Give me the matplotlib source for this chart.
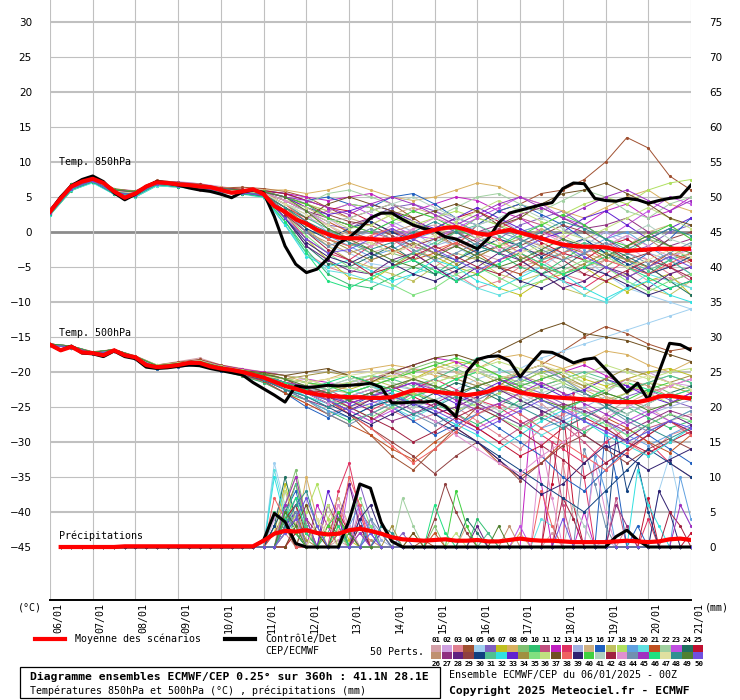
import numpy as np
import matplotlib
matplotlib.use("Agg")
import matplotlib.pyplot as plt
from matplotlib.patches import Rectangle
from matplotlib import transforms

# time axis (hours from 06/01 00z)
hours6 = np.arange(0, 361, 6)
hours12 = np.arange(0, 361, 12)
day_labels = ["06/01", "07/01", "08/01", "09/01", "10/01", "11/01", "12/01", "13/01",
              "14/01", "15/01", "16/01", "17/01", "18/01", "19/01", "20/01", "21/01"]

# 850 hPa temperature, 6-hourly
t850_mean = [2.9, 4.8, 6.5, 7.2, 7.6, 7.0, 5.8, 4.9, 5.5, 6.5, 7.1, 7.0, 6.8, 6.7, 6.5, 6.4,
             6.0, 5.6, 5.8, 6.1, 5.4, 3.7, 2.9, 1.8, 1.2, 0.3, -0.3, -0.8, -0.9, -0.9, -1.0,
             -1.1, -1.1, -1.0, -0.6, -0.1, 0.3, 0.6, 0.7, 0.3, -0.2, -0.4, 0.0, 0.3, -0.1,
             -0.5, -0.9, -1.4, -1.8, -2.0, -2.1, -2.1, -2.2, -2.5, -2.7, -2.6, -2.5, -2.4,
             -2.4, -2.4, -2.4]
t850_ctrl = [2.9, 5.0, 6.6, 7.5, 8.0, 7.2, 5.6, 4.6, 5.4, 6.5, 7.2, 7.0, 6.7, 6.3, 6.0, 5.8,
             5.4, 4.9, 5.7, 6.0, 5.6, 2.2, -2.0, -4.6, -5.8, -5.3, -3.8, -1.6, -0.8, 0.5, 2.0,
             2.7, 2.7, 1.8, 1.0, 0.5, 0.2, -0.7, -1.0, -1.7, -2.4, -1.0, 1.3, 2.7, 3.1, 3.5,
             3.9, 4.2, 6.2, 7.0, 6.9, 4.8, 4.5, 4.4, 4.8, 4.6, 4.1, 4.5, 4.8, 5.0, 6.7]

# 500 hPa temperature, 6-hourly
t500_mean = [-16.1, -16.9, -16.4, -17.2, -17.3, -17.6, -16.9, -17.6, -17.9, -19.0, -19.3,
             -19.2, -19.0, -18.7, -18.7, -19.2, -19.5, -19.7, -20.0, -20.4, -20.8, -21.4,
             -22.0, -22.4, -22.9, -23.2, -23.4, -23.5, -23.6, -23.6, -23.7, -23.7, -23.6,
             -23.1, -22.6, -22.6, -22.8, -23.0, -23.1, -23.3, -23.1, -22.8, -22.2, -22.4,
             -22.9, -23.2, -23.4, -23.6, -23.7, -23.8, -23.9, -24.0, -24.2, -24.3, -24.3,
             -24.3, -24.0, -23.5, -23.4, -23.6, -23.8]
t500_ctrl = [-16.1, -16.9, -16.3, -17.3, -17.4, -17.8, -17.0, -17.8, -18.1, -19.3, -19.5,
             -19.4, -19.2, -19.0, -19.1, -19.5, -19.8, -20.1, -20.4, -21.5, -22.4, -23.3,
             -24.3, -22.0, -22.2, -22.1, -21.9, -22.0, -21.9, -21.8, -21.6, -22.2, -24.4,
             -24.4, -24.3, -24.3, -24.1, -24.9, -26.4, -20.0, -18.2, -17.8, -17.7, -18.4,
             -20.7, -18.8, -17.1, -17.2, -17.9, -18.7, -18.2, -18.0, -19.6, -21.2, -22.9,
             -21.6, -24.0, -20.0, -15.9, -16.1, -16.9]

# precipitation (mm / 6h), from 06h to 360h
pr_mean = [0, 0, 0, 0, 0, 0, 0.1, 0.1, 0.1, 0.1, 0.1, 0.1, 0.1, 0.1, 0.1, 0.1, 0.1, 0.1, 0.1,
           0.9, 1.9, 2.3, 2.2, 2.4, 2.0, 1.8, 1.9, 2.4, 2.6, 2.3, 1.9, 1.4, 1.1, 1.0, 0.9,
           1.0, 1.1, 0.9, 0.9, 1.0, 0.8, 0.8, 1.0, 1.2, 1.0, 0.9, 0.9, 0.8, 0.7, 0.7, 0.7,
           0.7, 0.8, 0.9, 0.8, 0.7, 0.8, 1.1, 1.2, 1.0]
pr_ctrl = [0, 0, 0, 0, 0, 0, 0, 0, 0, 0, 0, 0, 0, 0, 0, 0, 0, 0, 0,
           1.0, 4.8, 3.6, 0.5, 0, 0, 0, 0, 3.8, 9.0, 8.4, 3.5, 0.8,
           0, 0, 0, 0, 0, 0, 0, 0, 0, 0, 0, 0, 0, 0, 0, 0, 0, 0, 0, 0,
           1.5, 2.4, 1.0, 0, 0, 0, 0, 0]

# 50 perturbed members, 850 hPa, 12-hourly
t850_members = [
    "2.5 6.0 7.2 5.5 5.2 6.8 7.0 6.8 6.2 6.0 5.5 4.0 2.0 1.0 -1.0 -3.0 -2.0 0.5 1.0 -1.0 -3.0 -4.0 -2.5 -3.0 -5.0 -6.0 -4.0 -5.0 -7.0 -6.5 -8.0",
    "3.0 6.8 7.8 6.0 5.6 7.2 7.2 6.9 6.5 6.0 6.0 5.5 4.0 2.0 0.0 -1.0 1.0 2.0 3.0 2.0 1.0 -1.0 -2.0 -4.0 -3.0 -1.0 0.0 -2.0 -4.0 -5.0 -3.0",
    "3.2 6.5 7.5 5.8 5.0 7.0 6.5 6.0 5.5 5.6 5.0 1.0 -3.0 -5.0 -6.0 -4.0 -3.0 -2.0 -4.0 -6.0 -8.0 -7.0 -5.0 -4.0 -6.0 -7.0 -5.0 -3.0 -4.0 -6.0 -5.0",
    "2.8 6.3 7.9 6.2 5.8 7.4 7.1 6.6 6.3 6.4 6.2 5.8 5.0 3.5 2.0 3.0 4.0 2.0 0.0 -2.0 1.0 3.0 4.0 5.5 6.0 7.5 10.0 13.5 12.0 8.0 6.0",
    "2.6 6.1 7.3 5.6 5.4 6.9 6.7 6.4 5.9 5.7 5.2 3.0 0.0 -2.0 -3.0 -4.5 -5.0 -3.0 -1.0 -2.0 -4.0 -5.0 -6.0 -5.0 -3.0 -4.0 -6.0 -8.0 -9.0 -10.0 -11.0",
    "3.1 6.7 7.7 5.9 5.7 7.3 6.9 6.7 6.1 5.9 5.7 4.5 3.0 1.0 0.5 2.0 3.5 4.0 3.0 1.5 0.0 -1.0 1.0 2.0 3.0 1.0 -1.0 -3.0 -2.0 0.0 1.0",
    "2.7 6.4 7.4 5.7 5.3 7.0 6.6 6.3 5.8 5.6 5.3 2.0 -1.0 -4.0 -6.5 -7.0 -5.0 -3.0 -3.5 -5.0 -6.0 -8.0 -9.0 -7.0 -6.0 -5.0 -7.0 -8.5 -7.0 -6.0 -9.0",
    "3.0 6.6 7.6 5.9 5.6 7.1 7.0 6.8 6.4 6.1 6.0 6.0 5.5 6.0 7.0 6.0 5.0 4.5 5.0 6.0 7.0 6.5 5.0 4.0 3.0 2.0 3.5 5.0 6.0 4.0 3.0",
    "2.9 6.5 7.5 5.7 5.4 7.0 6.7 6.4 6.0 5.8 5.5 3.5 1.0 -1.0 -2.0 -1.5 -3.0 -4.0 -2.0 0.0 2.0 1.0 -1.0 -3.0 -2.0 -4.0 -5.0 -3.0 -1.0 -2.0 -4.0",
    "2.4 5.9 7.1 5.4 5.0 6.6 6.4 6.2 5.7 5.5 5.0 1.5 -2.5 -6.0 -7.5 -8.0 -6.5 -5.0 -6.0 -4.0 -2.0 -3.0 -5.0 -6.0 -4.0 -2.0 -3.0 -5.0 -6.0 -4.0 -3.0",
    "3.3 6.9 7.9 6.1 5.9 7.3 7.1 6.9 6.3 6.1 5.8 5.0 3.5 2.0 1.0 0.0 -1.0 -2.0 -3.0 -2.0 -1.0 0.5 2.0 1.0 -1.0 -3.0 -2.0 -4.0 -6.0 -5.0 -7.0",
    "3.0 6.6 7.7 6.0 5.7 7.2 6.9 6.7 6.2 5.9 5.8 5.5 5.0 4.5 5.0 5.5 4.0 3.0 4.0 5.0 4.5 3.0 2.0 0.0 -1.0 1.0 3.0 4.0 2.0 3.0 5.0",
    "2.8 6.2 7.3 5.6 5.3 6.9 6.6 6.2 5.8 5.6 5.1 2.5 -1.0 -3.0 -4.0 -2.0 -1.0 -3.0 -5.0 -7.0 -6.0 -4.0 -3.0 -5.0 -7.0 -8.0 -6.0 -4.0 -5.0 -7.0 -6.0",
    "3.1 6.6 7.6 5.8 5.5 7.1 6.8 6.5 6.0 5.8 5.4 4.0 2.5 0.0 -1.0 0.0 1.5 0.0 -2.0 -1.0 1.0 2.0 0.0 -2.0 -3.0 -2.0 0.0 -1.0 -3.0 -4.0 -2.0",
    "2.6 6.2 7.2 5.5 5.3 6.8 6.6 6.4 5.9 5.7 5.4 4.5 4.0 3.0 2.0 1.0 2.5 3.5 2.5 1.0 -0.5 -2.0 -1.0 0.5 -1.0 -3.0 -4.0 -2.0 0.0 1.0 -1.0",
    "3.0 6.7 7.8 6.0 5.8 7.3 7.0 6.7 6.2 6.0 5.9 5.5 4.5 5.0 4.0 3.5 5.0 5.5 4.0 2.0 1.0 3.0 4.0 2.5 1.0 -1.0 -3.0 -5.0 -3.0 -1.0 2.0",
    "2.7 6.3 7.4 5.7 5.4 6.9 6.7 6.5 6.0 5.7 5.3 3.0 0.5 -2.0 -4.0 -5.0 -6.0 -7.0 -5.0 -3.0 -4.0 -6.0 -7.0 -6.0 -8.0 -9.0 -7.0 -6.0 -8.0 -9.0 -7.0",
    "3.2 6.8 7.8 6.1 5.8 7.3 7.0 6.8 6.3 6.1 5.9 5.0 4.0 3.0 4.0 3.5 2.0 1.0 2.0 3.0 2.0 1.0 0.0 1.0 2.5 4.0 5.0 4.0 6.0 7.0 7.5",
    "2.9 6.4 7.5 5.8 5.4 7.0 6.8 6.5 6.0 5.8 5.4 3.5 1.5 -0.5 -2.0 -3.5 -2.5 -1.0 0.0 -1.5 -3.0 -2.0 0.0 1.0 -1.0 -2.5 -1.0 0.0 -2.0 -4.0 -6.0",
    "2.5 6.0 7.0 5.4 5.0 6.6 6.4 6.1 5.6 5.4 4.9 1.0 -3.0 -5.5 -6.0 -7.0 -8.0 -6.0 -5.0 -6.5 -8.0 -9.0 -8.0 -6.0 -7.0 -9.0 -10.0 -8.0 -6.0 -7.0 -8.0",
    "3.1 6.7 7.7 5.9 5.6 7.2 6.9 6.6 6.1 5.9 5.6 4.5 3.0 1.5 0.0 -1.0 -2.5 -4.0 -3.0 -1.5 -3.0 -5.0 -6.0 -4.0 -2.0 -3.0 -5.0 -6.5 -5.0 -3.0 -4.0",
    "2.8 6.4 7.5 5.8 5.5 7.1 6.9 6.6 6.1 5.9 5.7 5.0 4.0 5.5 6.0 5.0 4.0 3.0 2.0 3.5 5.0 5.5 4.0 3.0 4.5 6.0 5.0 3.0 2.0 4.0 5.0",
    "3.0 6.5 7.6 5.8 5.5 7.1 6.8 6.5 6.0 5.8 5.5 4.0 2.0 3.0 4.0 2.5 1.0 -0.5 -1.0 0.5 2.0 3.5 5.0 4.0 2.0 1.0 -1.0 1.0 3.0 5.0 4.0",
    "2.7 6.3 7.3 5.6 5.3 6.9 6.6 6.3 5.8 5.6 5.2 2.0 -2.0 -4.5 -5.0 -3.5 -2.0 -4.0 -6.0 -5.0 -3.0 -2.0 -4.0 -6.0 -5.0 -3.0 -2.0 -3.5 -5.0 -7.0 -9.0",
    "3.2 6.8 7.9 6.1 5.8 7.3 7.0 6.8 6.3 6.1 5.9 5.5 4.5 3.5 3.0 1.5 0.0 -1.0 0.5 2.0 3.0 1.5 0.0 -1.5 -3.0 -4.0 -2.0 -1.0 -3.0 -5.0 -4.0",
    "2.9 6.5 7.5 5.8 5.5 7.0 6.7 6.4 6.0 5.8 5.5 3.0 0.0 -1.5 -3.0 -2.0 0.0 1.0 -0.5 -2.0 -3.5 -2.0 -1.0 -2.0 -3.5 -5.0 -4.0 -2.0 -1.0 -3.0 -4.5",
    "3.0 6.6 7.6 5.9 5.6 7.1 6.8 6.6 6.1 5.9 5.6 4.5 3.0 2.0 1.0 2.0 3.0 1.5 0.0 -1.0 0.0 1.0 2.5 3.5 2.0 0.5 1.0 2.0 0.0 -2.0 -1.0",
    "2.6 6.1 7.2 5.5 5.2 6.8 6.5 6.2 5.8 5.5 5.1 2.0 -2.0 -4.0 -5.5 -6.0 -4.0 -3.0 -5.0 -7.0 -5.0 -3.0 -4.0 -6.0 -8.0 -7.0 -5.0 -6.0 -8.0 -6.0 -5.0",
    "3.1 6.7 7.8 6.0 5.7 7.2 6.9 6.7 6.2 6.0 5.8 5.0 4.0 2.5 1.5 1.0 -0.5 -2.0 -1.0 0.0 -1.5 -3.0 -2.0 -0.5 1.0 0.0 -2.0 -4.0 -3.0 -1.0 0.0",
    "2.8 6.4 7.4 5.7 5.4 7.0 6.7 6.4 5.9 5.7 5.3 3.0 0.5 -1.0 0.5 1.5 0.0 -1.5 -3.0 -4.0 -2.5 -1.0 -2.0 -3.5 -2.0 -1.0 -3.0 -4.5 -6.0 -5.0 -3.5",
    "3.0 6.6 7.7 5.9 5.6 7.2 6.9 6.6 6.1 5.9 5.6 4.0 2.0 0.5 -1.5 -3.0 -4.5 -3.0 -1.5 0.0 1.0 -0.5 -2.0 -4.0 -3.0 -1.5 -2.5 -4.0 -5.5 -4.0 -6.0",
    "2.5 6.0 7.1 5.4 5.1 6.7 6.5 6.2 5.7 5.5 5.0 1.0 -3.5 -5.0 -4.0 -5.5 -7.0 -6.0 -4.0 -5.0 -7.0 -8.0 -6.5 -5.0 -6.0 -8.0 -9.5 -8.0 -7.0 -9.0 -10.0",
    "3.2 6.8 7.8 6.0 5.7 7.2 7.0 6.7 6.2 6.0 5.7 5.0 3.5 2.5 3.0 4.0 3.0 1.5 0.5 2.0 3.5 2.0 0.5 -1.0 0.0 2.0 3.0 1.0 -1.0 0.5 2.0",
    "2.9 6.5 7.5 5.8 5.4 7.0 6.7 6.4 5.9 5.7 5.4 3.5 1.0 -1.0 -2.5 -4.0 -3.0 -1.5 -3.0 -4.5 -3.5 -2.0 -3.5 -5.0 -6.0 -4.5 -3.0 -4.0 -5.0 -3.5 -2.0",
    "2.7 6.2 7.3 5.6 5.3 6.9 6.6 6.3 5.8 5.6 5.2 2.5 -0.5 -3.0 -5.0 -6.0 -7.5 -9.0 -8.0 -6.0 -5.0 -6.5 -8.0 -7.0 -5.5 -4.0 -5.0 -7.0 -8.5 -7.0 -6.0",
    "3.1 6.7 7.7 5.9 5.6 7.1 6.9 6.6 6.1 5.9 5.6 4.5 3.5 2.0 0.5 1.0 2.5 1.5 0.0 1.5 3.0 4.5 3.0 1.5 0.0 -1.0 0.5 2.0 3.5 2.0 0.5",
    "2.8 6.3 7.4 5.7 5.4 7.0 6.7 6.4 5.9 5.7 5.3 3.5 2.0 4.0 5.0 4.0 3.0 2.0 3.0 4.0 3.0 1.0 2.0 4.0 5.5 6.0 7.0 5.5 4.0 2.0 1.0",
    "3.0 6.6 7.6 5.9 5.6 7.1 6.9 6.6 6.1 5.9 5.5 4.0 1.5 -1.0 -2.0 -0.5 0.5 -1.0 -2.5 -1.5 0.0 -1.0 -3.0 -4.5 -3.0 -2.0 -4.0 -5.0 -6.0 -4.5 -3.0",
    "2.6 6.1 7.2 5.5 5.2 6.8 6.5 6.2 5.7 5.5 5.1 2.0 -1.5 -3.5 -4.5 -3.0 -4.5 -6.0 -7.0 -5.5 -4.0 -5.0 -7.0 -8.0 -6.5 -5.0 -6.0 -7.5 -9.0 -8.0 -7.0",
    "3.2 6.8 7.8 6.1 5.8 7.3 7.0 6.7 6.2 6.0 5.8 5.0 4.0 2.0 1.0 0.0 1.5 3.0 2.0 0.5 -1.0 -2.0 -0.5 1.0 2.5 1.0 -1.0 -2.0 -0.5 1.0 -1.0",
    "2.9 6.5 7.5 5.8 5.5 7.0 6.8 6.5 6.0 5.8 5.5 4.0 3.0 1.5 2.0 3.0 4.0 5.0 3.5 2.0 1.0 2.0 3.5 2.0 0.5 -1.0 -2.0 -0.5 1.0 -1.0 -2.0",
    "2.7 6.3 7.3 5.6 5.3 6.9 6.6 6.3 5.8 5.6 5.2 2.5 0.0 -2.5 -4.0 -6.0 -5.0 -3.5 -2.0 -3.5 -5.0 -6.0 -4.5 -3.0 -4.0 -6.0 -7.0 -5.5 -4.0 -5.0 -6.5",
    "3.0 6.6 7.7 5.9 5.6 7.2 6.9 6.6 6.1 5.9 5.6 4.5 3.0 1.0 -0.5 -2.0 -1.0 0.5 2.0 1.0 -1.0 -2.5 -1.5 0.0 -1.5 -3.0 -2.0 -0.5 -2.0 -3.5 -2.5",
    "2.8 6.4 7.4 5.7 5.4 7.0 6.7 6.4 5.9 5.7 5.3 3.0 0.0 -2.0 -1.0 0.5 -1.0 -2.5 -4.0 -3.0 -1.5 0.0 -1.0 -2.5 -4.0 -3.0 -1.5 -3.0 -4.5 -3.0 -1.5",
    "3.1 6.7 7.7 6.0 5.7 7.2 6.9 6.7 6.2 6.0 5.7 5.0 4.5 3.5 2.5 4.0 5.0 4.0 2.5 1.0 2.5 4.0 5.0 3.5 2.0 3.5 5.0 6.0 4.5 3.0 4.5",
    "2.6 6.1 7.2 5.5 5.2 6.8 6.5 6.2 5.7 5.5 5.0 1.5 -3.0 -7.0 -8.0 -6.5 -5.0 -4.0 -5.5 -7.0 -6.0 -4.5 -3.0 -4.5 -6.0 -5.0 -3.5 -5.0 -6.5 -8.0 -7.0",
    "3.0 6.5 7.6 5.8 5.5 7.1 6.8 6.5 6.0 5.8 5.5 4.0 2.5 1.0 -0.5 -1.5 -3.0 -2.0 -0.5 1.0 0.0 -1.5 -3.0 -2.0 -0.5 -2.0 -3.5 -5.0 -4.0 -2.5 -3.5",
    "2.8 6.3 7.4 5.7 5.4 7.0 6.7 6.4 5.9 5.7 5.4 3.5 1.5 0.0 -1.5 -2.5 -1.5 0.0 1.5 0.0 -2.0 -3.0 -1.5 0.0 1.5 0.5 -1.0 -2.5 -1.0 0.5 -0.5",
    "3.1 6.7 7.8 6.0 5.7 7.2 6.9 6.7 6.2 6.0 5.7 5.0 3.0 0.5 -1.0 -2.5 -4.0 -5.0 -3.5 -2.0 -3.5 -5.0 -4.0 -2.5 -1.0 -2.0 -3.5 -2.0 -0.5 -2.0 -3.0",
    "2.7 6.2 7.3 5.6 5.3 6.9 6.6 6.3 5.8 5.6 5.2 2.0 -1.0 -3.0 -2.5 -1.0 0.5 -1.0 -2.5 -4.0 -5.5 -4.0 -2.5 -1.0 -2.0 -3.5 -5.0 -6.5 -5.0 -3.5 -5.0",
]

# 50 perturbed members, 500 hPa, 12-hourly
t500_members = [
    "-16.0 -16.5 -17.2 -16.8 -18.0 -19.0 -18.5 -18.0 -19.0 -19.5 -20.0 -21.0 -22.0 -23.0 -25.0 -24.0 -22.0 -21.0 -22.5 -24.0 -26.0 -25.0 -23.0 -24.5 -27.0 -29.0 -26.0 -24.0 -25.0 -27.0 -26.0",
    "-16.2 -16.3 -17.4 -17.0 -17.8 -19.2 -18.8 -18.2 -19.2 -19.8 -20.5 -21.5 -21.0 -22.0 -21.5 -21.0 -20.5 -19.5 -20.0 -21.0 -22.0 -21.0 -20.0 -19.0 -21.0 -22.5 -23.0 -21.0 -20.0 -21.5 -22.0",
    "-16.1 -16.5 -17.3 -16.9 -18.0 -19.5 -19.3 -19.0 -19.8 -20.5 -21.5 -23.0 -24.5 -26.0 -25.0 -24.0 -25.5 -27.0 -26.0 -25.0 -27.0 -29.0 -31.0 -28.0 -26.0 -25.0 -27.0 -30.0 -32.0 -29.0 -28.0",
    "-16.0 -16.3 -17.1 -16.8 -17.7 -19.0 -18.6 -18.2 -19.0 -19.6 -20.2 -21.0 -22.5 -24.0 -26.0 -29.0 -32.0 -34.0 -31.0 -28.0 -25.0 -22.0 -20.0 -19.0 -17.0 -15.0 -13.5 -14.5 -16.0 -17.0 -16.5",
    "-16.1 -16.4 -17.3 -16.9 -17.9 -19.2 -19.0 -18.7 -19.4 -20.0 -20.7 -22.0 -23.5 -24.5 -23.0 -22.0 -23.5 -25.0 -24.0 -22.5 -21.0 -20.0 -19.5 -18.0 -17.0 -16.0 -15.0 -14.0 -13.0 -12.0 -11.0",
    "-16.2 -16.5 -17.4 -17.0 -18.0 -19.4 -19.1 -18.8 -19.6 -20.2 -21.0 -22.0 -22.5 -23.0 -24.0 -23.5 -22.5 -21.5 -22.0 -23.5 -24.5 -23.0 -22.0 -23.0 -24.5 -26.0 -25.0 -23.5 -22.5 -24.0 -25.0",
    "-16.0 -16.4 -17.2 -16.9 -17.8 -19.1 -18.9 -18.6 -19.3 -19.8 -20.2 -21.0 -21.5 -22.0 -22.5 -21.5 -20.5 -21.0 -19.5 -18.5 -19.0 -20.5 -21.5 -20.0 -19.5 -21.0 -22.0 -21.0 -20.0 -19.5 -20.5",
    "-16.1 -16.3 -17.3 -16.8 -17.9 -19.2 -18.9 -18.5 -19.2 -19.7 -20.0 -20.5 -21.5 -21.0 -20.0 -19.5 -19.0 -19.5 -20.5 -21.0 -19.5 -18.0 -17.5 -18.5 -19.5 -18.5 -17.0 -17.5 -19.0 -20.0 -18.5",
    "-16.1 -16.4 -17.3 -17.0 -18.0 -19.3 -19.1 -18.8 -19.6 -20.3 -21.2 -22.5 -23.0 -24.0 -23.0 -22.0 -21.0 -19.5 -18.5 -19.5 -21.0 -22.5 -21.5 -20.0 -21.5 -23.0 -24.5 -23.0 -21.5 -23.0 -24.0",
    "-16.0 -16.5 -17.4 -16.9 -18.1 -19.5 -19.2 -19.0 -19.8 -20.6 -21.5 -23.0 -24.0 -25.5 -27.0 -26.0 -24.5 -23.0 -24.5 -26.0 -27.5 -26.0 -24.0 -25.5 -27.0 -28.5 -27.0 -25.0 -26.5 -28.0 -27.0",
    "-16.2 -16.4 -17.3 -16.9 -17.9 -19.3 -19.0 -18.6 -19.4 -20.0 -20.6 -21.5 -22.5 -24.0 -25.5 -27.0 -25.0 -23.0 -24.0 -26.0 -28.0 -30.0 -28.0 -26.0 -27.5 -30.0 -33.0 -31.0 -28.0 -27.0 -29.0",
    "-16.1 -16.3 -17.2 -16.8 -17.8 -19.1 -18.8 -18.4 -19.1 -19.6 -20.0 -20.5 -21.0 -21.5 -22.0 -21.0 -20.0 -19.0 -18.0 -18.5 -20.0 -21.0 -22.0 -21.0 -20.0 -19.0 -20.5 -22.0 -23.0 -22.0 -21.0",
    "-16.0 -16.4 -17.3 -16.9 -17.9 -19.2 -18.9 -18.7 -19.5 -20.1 -20.9 -22.0 -23.0 -22.5 -24.0 -25.5 -24.0 -22.5 -21.0 -22.5 -24.0 -25.0 -27.0 -29.0 -31.0 -33.0 -30.0 -28.0 -30.0 -33.0 -35.0",
    "-16.1 -16.5 -17.3 -17.0 -18.0 -19.4 -19.1 -18.8 -19.5 -20.0 -20.5 -21.5 -22.0 -23.5 -24.5 -23.5 -22.0 -22.5 -24.0 -25.5 -24.0 -22.5 -23.5 -25.0 -26.5 -25.0 -23.5 -24.5 -26.0 -25.0 -24.0",
    "-16.2 -16.4 -17.2 -16.9 -17.8 -19.1 -18.8 -18.5 -19.2 -19.8 -20.3 -21.0 -21.5 -22.5 -23.0 -22.0 -21.0 -20.0 -19.0 -20.0 -21.5 -22.5 -23.5 -22.0 -21.0 -22.0 -23.5 -24.5 -23.0 -22.0 -23.0",
    "-16.1 -16.4 -17.4 -17.0 -18.1 -19.5 -19.3 -19.0 -19.8 -20.4 -21.3 -23.0 -25.0 -26.5 -25.0 -23.5 -25.0 -27.0 -29.0 -27.5 -26.0 -28.0 -30.0 -32.0 -35.0 -37.0 -34.0 -31.0 -29.0 -31.0 -33.0",
    "-16.0 -16.3 -17.2 -16.8 -17.8 -19.1 -18.8 -18.5 -19.3 -19.8 -20.4 -21.5 -22.5 -23.0 -22.0 -21.0 -22.0 -23.5 -22.5 -21.0 -20.0 -21.5 -23.0 -22.0 -21.0 -22.5 -24.0 -23.0 -21.5 -22.0 -23.0",
    "-16.1 -16.4 -17.3 -16.9 -17.9 -19.2 -19.0 -18.7 -19.5 -20.1 -20.8 -22.0 -22.5 -23.5 -24.0 -25.0 -24.0 -23.0 -24.0 -25.5 -24.5 -23.0 -22.0 -23.5 -25.0 -24.0 -22.5 -21.5 -23.0 -24.5 -23.5",
    "-16.2 -16.5 -17.3 -17.0 -18.0 -19.3 -19.1 -18.8 -19.6 -20.2 -21.0 -22.5 -24.0 -25.5 -26.5 -25.0 -23.5 -24.5 -26.0 -27.5 -26.0 -24.5 -26.0 -28.0 -27.0 -25.5 -27.0 -29.0 -30.5 -29.0 -27.5",
    "-16.1 -16.4 -17.3 -16.9 -17.9 -19.2 -18.9 -18.6 -19.4 -19.9 -20.6 -21.5 -22.0 -23.0 -22.5 -23.5 -25.0 -26.5 -25.0 -23.0 -24.5 -26.0 -27.5 -29.0 -27.5 -26.0 -28.0 -30.0 -28.5 -27.0 -25.5",
    "-16.0 -16.4 -17.3 -17.0 -18.0 -19.4 -19.2 -18.9 -19.7 -20.4 -21.3 -23.0 -24.5 -26.0 -27.5 -29.0 -31.0 -32.5 -30.0 -28.0 -30.0 -33.0 -35.0 -33.0 -30.0 -28.0 -26.5 -28.0 -30.0 -31.5 -29.0",
    "-16.1 -16.3 -17.2 -16.8 -17.8 -19.0 -18.7 -18.4 -19.2 -19.7 -20.3 -21.0 -21.5 -22.0 -21.0 -20.5 -21.5 -22.5 -21.5 -20.5 -19.5 -20.5 -21.5 -22.5 -21.5 -20.5 -21.5 -22.5 -21.5 -20.5 -21.5",
    "-16.2 -16.5 -17.4 -17.0 -18.1 -19.4 -19.1 -18.7 -19.5 -20.1 -20.9 -22.0 -23.0 -24.0 -25.5 -27.0 -25.5 -24.0 -25.0 -26.5 -28.0 -26.5 -25.0 -23.5 -25.0 -27.0 -28.5 -27.0 -25.5 -27.0 -28.5",
    "-16.1 -16.4 -17.3 -16.9 -17.9 -19.2 -18.9 -18.6 -19.4 -20.0 -20.7 -21.5 -23.0 -24.5 -23.5 -22.5 -23.5 -24.5 -23.0 -21.5 -22.5 -24.0 -25.0 -23.5 -22.0 -23.0 -24.5 -26.0 -24.5 -23.0 -22.0",
    "-16.0 -16.3 -17.2 -16.8 -17.8 -19.1 -18.8 -18.5 -19.3 -19.9 -20.5 -21.5 -22.5 -23.0 -24.0 -23.0 -22.0 -23.5 -25.0 -26.5 -28.0 -30.0 -32.0 -30.5 -28.0 -26.5 -28.0 -30.0 -31.5 -30.0 -28.5",
    "-16.1 -16.4 -17.3 -16.9 -17.9 -19.2 -19.0 -18.7 -19.5 -20.0 -20.8 -21.5 -22.0 -23.0 -22.0 -21.0 -20.0 -21.0 -22.0 -23.0 -22.0 -21.0 -20.5 -21.5 -23.0 -24.0 -22.5 -21.0 -22.0 -23.5 -22.5",
    "-16.2 -16.5 -17.4 -17.0 -18.0 -19.3 -19.1 -18.8 -19.6 -20.3 -21.2 -22.5 -24.0 -25.0 -24.0 -25.5 -27.0 -26.0 -24.5 -23.0 -24.5 -26.0 -27.5 -26.0 -24.5 -25.5 -27.0 -28.5 -27.0 -25.5 -26.5",
    "-16.1 -16.4 -17.3 -16.9 -17.9 -19.2 -18.9 -18.6 -19.4 -20.0 -20.6 -21.5 -22.5 -24.0 -25.5 -24.0 -23.0 -24.5 -26.0 -25.0 -23.5 -22.5 -24.0 -25.5 -27.0 -29.0 -31.0 -29.5 -27.5 -26.0 -27.5",
    "-16.0 -16.4 -17.2 -16.8 -17.8 -19.1 -18.8 -18.5 -19.2 -19.7 -20.2 -21.0 -22.5 -24.0 -26.0 -28.0 -30.0 -32.0 -34.5 -32.0 -30.0 -32.5 -35.5 -33.0 -30.5 -29.0 -31.0 -33.0 -31.0 -29.5 -31.0",
    "-16.1 -16.5 -17.3 -17.0 -18.0 -19.4 -19.1 -18.9 -19.7 -20.3 -21.1 -22.5 -23.5 -25.0 -26.5 -25.0 -24.0 -25.5 -27.0 -28.5 -30.0 -32.0 -34.0 -36.0 -38.0 -40.0 -37.0 -34.0 -31.0 -33.0 -35.0",
    "-16.1 -16.4 -17.3 -16.9 -17.9 -19.2 -19.0 -18.7 -19.4 -19.9 -20.5 -21.5 -22.0 -22.5 -21.5 -20.5 -21.0 -22.0 -21.0 -19.5 -18.0 -19.5 -21.0 -22.0 -21.0 -20.0 -21.0 -22.5 -21.5 -20.5 -21.5",
    "-16.2 -16.4 -17.3 -17.0 -18.0 -19.3 -19.0 -18.7 -19.5 -20.1 -20.9 -22.0 -23.5 -24.5 -23.0 -22.0 -23.0 -24.5 -26.0 -27.5 -29.0 -31.0 -29.0 -27.0 -25.5 -27.0 -29.0 -30.5 -32.0 -30.0 -28.0",
    "-16.0 -16.3 -17.2 -16.8 -17.8 -19.1 -18.8 -18.5 -19.3 -19.8 -20.4 -21.5 -22.5 -23.5 -24.5 -23.5 -22.5 -21.5 -23.0 -24.5 -23.0 -21.5 -20.5 -22.0 -23.5 -22.5 -21.0 -22.0 -23.5 -24.5 -23.0",
    "-16.1 -16.4 -17.3 -16.9 -17.9 -19.2 -19.0 -18.6 -19.4 -20.0 -20.7 -21.0 -20.5 -20.0 -20.5 -21.5 -22.5 -21.0 -20.0 -21.0 -22.0 -21.0 -20.0 -19.0 -20.5 -22.0 -21.0 -19.5 -20.5 -21.5 -20.5",
    "-16.1 -16.5 -17.4 -17.0 -18.0 -19.4 -19.2 -18.9 -19.7 -20.3 -21.0 -22.0 -23.0 -24.0 -25.0 -26.5 -25.0 -23.5 -22.0 -23.5 -25.0 -26.5 -28.0 -26.5 -25.0 -26.0 -27.5 -29.0 -27.5 -26.0 -27.0",
    "-16.0 -16.3 -17.2 -16.8 -17.8 -19.0 -18.7 -18.4 -19.2 -19.7 -20.2 -20.5 -21.0 -22.0 -21.5 -20.5 -19.5 -20.5 -21.5 -20.5 -19.5 -18.5 -19.5 -20.5 -21.5 -20.5 -19.0 -20.0 -21.0 -20.0 -19.5",
    "-16.2 -16.4 -17.3 -17.0 -18.0 -19.3 -19.0 -18.6 -19.3 -19.8 -20.1 -20.5 -20.0 -19.5 -20.5 -21.5 -20.0 -19.0 -18.0 -17.5 -18.5 -17.0 -15.5 -14.0 -13.0 -14.5 -15.0 -15.5 -16.5 -17.5 -18.5",
    "-16.1 -16.4 -17.3 -16.9 -17.9 -19.2 -18.9 -18.6 -19.4 -20.0 -20.7 -21.5 -22.5 -24.0 -26.0 -28.0 -30.5 -33.0 -31.0 -28.5 -26.0 -24.5 -26.0 -28.0 -30.0 -32.0 -34.0 -31.5 -29.0 -27.0 -29.0",
    "-16.0 -16.4 -17.3 -17.0 -18.0 -19.4 -19.1 -18.8 -19.6 -20.2 -21.0 -22.0 -23.0 -24.5 -26.0 -27.5 -26.0 -24.5 -26.0 -28.0 -30.0 -32.5 -35.0 -37.5 -36.0 -33.0 -30.5 -32.0 -34.0 -32.5 -31.0",
    "-16.1 -16.3 -17.2 -16.8 -17.8 -19.1 -18.8 -18.5 -19.3 -19.9 -20.4 -21.0 -21.5 -22.0 -23.0 -22.0 -21.0 -20.0 -19.0 -18.0 -19.0 -20.5 -22.0 -21.0 -20.0 -21.5 -23.0 -24.0 -22.5 -21.5 -22.5",
    "-16.2 -16.5 -17.4 -17.0 -18.1 -19.4 -19.1 -18.8 -19.6 -20.2 -21.0 -22.0 -23.0 -22.0 -21.0 -22.0 -23.5 -25.0 -24.0 -23.0 -24.0 -25.5 -24.5 -23.0 -22.0 -23.5 -25.0 -26.0 -24.5 -23.0 -24.0",
    "-16.1 -16.4 -17.3 -16.9 -17.9 -19.2 -18.9 -18.6 -19.4 -20.0 -20.7 -21.5 -22.5 -23.5 -25.0 -26.5 -28.0 -30.0 -28.5 -26.5 -25.0 -26.5 -28.5 -30.5 -32.5 -35.0 -33.0 -31.0 -29.0 -27.0 -28.5",
    "-16.0 -16.4 -17.3 -17.0 -18.0 -19.3 -19.0 -18.7 -19.5 -20.0 -20.8 -22.0 -23.0 -24.5 -23.5 -22.5 -24.0 -25.5 -27.0 -29.0 -31.0 -33.0 -34.5 -32.0 -30.0 -28.0 -26.5 -25.0 -23.5 -22.0 -21.0",
    "-16.1 -16.4 -17.3 -16.9 -17.9 -19.2 -19.0 -18.7 -19.5 -20.1 -20.9 -22.5 -24.0 -26.0 -27.5 -26.0 -24.5 -26.0 -27.5 -26.0 -24.0 -22.5 -21.0 -19.5 -21.0 -23.0 -25.0 -27.0 -28.5 -27.0 -25.5",
    "-16.2 -16.4 -17.3 -17.0 -18.0 -19.3 -19.0 -18.7 -19.5 -20.0 -20.6 -21.5 -22.0 -23.0 -24.5 -23.5 -22.5 -21.5 -22.5 -24.0 -25.5 -24.5 -23.0 -21.5 -23.0 -24.5 -26.0 -27.5 -26.0 -24.5 -23.0",
    "-16.0 -16.3 -17.2 -16.8 -17.8 -19.1 -18.9 -18.6 -19.4 -19.9 -20.5 -21.5 -22.5 -21.5 -20.5 -21.5 -22.5 -23.5 -22.5 -21.0 -20.0 -21.0 -22.5 -24.0 -25.5 -24.0 -22.5 -21.5 -22.5 -23.5 -22.5",
    "-16.1 -16.4 -17.3 -16.9 -17.9 -19.2 -18.9 -18.6 -19.4 -20.0 -20.6 -21.0 -21.5 -21.0 -20.5 -20.0 -20.5 -21.0 -20.0 -19.0 -20.0 -21.0 -20.0 -19.0 -20.0 -21.5 -22.5 -21.5 -20.5 -21.5 -22.5",
    "-16.1 -16.5 -17.4 -17.0 -18.0 -19.4 -19.1 -18.8 -19.6 -20.2 -21.1 -22.5 -23.5 -25.0 -24.0 -23.0 -24.5 -26.0 -25.0 -23.5 -22.0 -23.5 -25.0 -26.5 -28.0 -26.5 -25.0 -26.5 -28.0 -29.5 -28.0",
    "-16.0 -16.3 -17.2 -16.8 -17.8 -19.1 -18.8 -18.5 -19.3 -19.8 -20.3 -21.0 -22.0 -23.0 -24.0 -23.0 -22.0 -21.0 -22.0 -23.0 -22.0 -21.0 -22.5 -24.0 -25.0 -24.0 -23.0 -24.0 -25.5 -24.5 -23.5",
    "-16.2 -16.4 -17.3 -17.0 -18.0 -19.3 -19.0 -18.7 -19.5 -20.1 -20.9 -22.0 -23.0 -24.0 -25.5 -24.5 -23.5 -24.5 -25.5 -27.0 -28.5 -27.0 -25.5 -24.0 -25.5 -27.0 -28.5 -30.0 -28.5 -27.0 -28.0",
]

# 50 perturbed members, precipitation: "6h-step:mm" (0 elsewhere)
pr_members = [
    "22:3 23:5 24:2 27:1 47:2", "21:4 22:8 23:3 29:6 30:2 52:1",
    "22:2 26:3 27:6 28:2 48:12 49:4 54:3", "21:2 22:5 23:9 24:3 27:2 35:1",
    "21:12 22:6 23:4 28:3 57:8 58:13 59:6 60:3", "22:3 23:7 24:4 29:9 30:4 33:2",
    "21:2 22:9 23:3 27:4 28:1", "23:2 24:10 25:4 30:3 44:2",
    "22:6 23:11 24:4 28:2 36:3", "21:5 22:3 26:2 27:5 40:4 41:2",
    "23:3 24:2 29:5 30:3 47:15 48:6 53:7", "22:4 23:2 25:6 26:3 45:18 46:9 50:5",
    "21:2 22:4 27:8 28:12 29:5 49:22 50:10 56:4", "22:2 23:6 24:3 30:4 31:1",
    "22:3 23:2 26:4 27:7 28:3 39:3", "22:5 23:8 24:3 29:4 52:17 53:10 55:3",
    "21:3 22:6 23:10 24:3 34:2", "22:3 24:5 25:9 26:4 31:2",
    "22:2 23:4 28:3 29:6 30:2 51:13 52:8 59:10 60:4", "21:11 22:5 23:3 30:2 46:4 47:3",
    "22:4 23:6 26:3 27:2 36:2", "22:3 23:5 24:2 33:7 34:3",
    "22:5 23:3 28:9 29:5 30:2 44:3", "21:3 22:10 23:4 27:2 39:4 40:2",
    "23:2 24:3 27:5 28:2 47:9 48:20 49:6 56:7 60:2", "22:2 23:3 29:2 30:1 43:3",
    "22:3 23:5 26:6 27:3 53:6 54:3", "22:2 23:4 27:4 28:9 29:3 40:3",
    "22:3 24:4 25:2 36:4 37:9 38:5 39:2", "21:3 22:6 23:2 29:3 53:16 54:8 55:12 56:5",
    "22:4 23:9 24:3 28:2 41:2", "21:10 22:4 23:2 30:3 55:11 56:6 57:3",
    "22:3 23:5 26:8 27:4 31:2", "22:2 23:4 24:1 32:3",
    "22:6 23:3 28:4 29:7 30:3", "22:8 23:4 25:3 26:6 27:2 38:2",
    "23:3 24:6 25:2 34:2", "21:7 22:4 27:2 28:10 29:6 46:8 47:3",
    "22:3 23:2 29:4 30:6 31:2 57:8 58:5", "22:5 23:2 26:3 27:5 38:8 39:3",
    "22:2 23:3 28:3 29:2 49:6 50:3", "22:4 23:6 24:2 29:3 48:7 49:4 58:5 59:3",
    "22:3 23:4 27:6 28:3 46:15 47:7 51:12 52:5", "22:2 23:5 30:4 31:2 50:14 51:9 52:3",
    "22:6 23:10 24:4 29:2 59:6 60:3", "22:4 23:7 24:2 27:3 36:6 37:2",
    "22:2 23:3 25:4 26:2", "22:3 23:6 24:8 25:3 31:3 32:2",
    "22:5 23:3 27:4 28:2 42:3", "22:2 23:4 24:7 25:3 30:2 48:4",
]

member_colors = [
    "#d4a0a8", "#d0a0e0", "#e08090", "#a05030", "#a0d0f0", "#8060c0", "#c0c020", "#d8b060",
    "#80c070", "#30c070", "#c05080", "#c020c0", "#e03060", "#a0b0e0", "#d0b080", "#2060c0",
    "#c0c060", "#b0e060", "#60a0e0", "#60e0e0", "#c05020", "#a0d0a0", "#c050e0", "#207060",
    "#c01030",
    "#c09070", "#903080", "#602080", "#904040", "#104080", "#50c090", "#30e0e0", "#6020d0",
    "#a09040", "#80e080", "#c0e080", "#705020", "#f06060", "#302070", "#40d040", "#b0d0c0",
    "#a02040", "#e090d0", "#7090b0", "#a030c0", "#20e080", "#e0e0a0", "#309090", "#508030",
    "#7050e0",
]

PR_OFFSET = -45  # precipitation axis: 0 mm sits on -45 of the temperature axis
W, H = 740, 700
mono = "DejaVu Sans Mono"


def fx(x):
    return x / W


def fy(y):
    return 1 - y / H


fig = plt.figure(figsize=(W / 100, H / 100), dpi=100)
fig.patch.set_facecolor("white")
ax = fig.add_axes([fx(50), fy(600), 641 / W, 600 / H])
ax.set_xlim(0, 360)
ax.set_ylim(-45 - 53 / 7, 30 + 22 / 7)

# grid
for v in range(-40, 31, 5):
    if v == 0:
        ax.axhline(v, color="#8c8c8c", lw=2.0, zorder=0.5)
    else:
        ax.axhline(v, color="#c0c0c0", lw=1.5 if v % 10 == 0 else 0.8, zorder=0.5)
for d in range(len(day_labels)):
    ax.axvline(24 * d, color="#c0c0c0", lw=0.8, zorder=0.5)

for s in ["left", "right", "top"]:
    ax.spines[s].set_visible(False)
ax.spines["bottom"].set_linewidth(1.4)
ax.set_xticks([])
ax.set_yticks(range(-45, 31, 5))
ax.tick_params(axis="y", length=0, pad=13, labelsize=7.5)
sec = ax.secondary_yaxis("right", functions=(lambda v: v - PR_OFFSET, lambda v: v + PR_OFFSET))
sec.set_yticks(range(0, 76, 5))
sec.tick_params(length=0, pad=13, labelsize=7.5)
sec.spines["right"].set_visible(False)

# members
for k, s in enumerate(pr_members):
    vals = np.zeros(len(hours6))
    for tok in s.split():
        i, v = tok.split(":")
        vals[int(i)] = float(v)
    ax.plot(hours6[1:], vals[1:] + PR_OFFSET, color=member_colors[k], lw=0.7,
            marker=".", ms=2.5, zorder=2)
for k, s in enumerate(t500_members):
    vals = np.array(s.split(), float)
    ax.plot(hours12[:len(vals)], vals, color=member_colors[k], lw=0.7,
            marker=".", ms=2.5, zorder=2)
for k, s in enumerate(t850_members):
    vals = np.array(s.split(), float)
    ax.plot(hours12[:len(vals)], vals, color=member_colors[k], lw=0.7,
            marker=".", ms=2.5, zorder=2)

# control and mean
ax.plot(hours6, t850_ctrl, color="black", lw=2.2, zorder=4)
ax.plot(hours6, t500_ctrl, color="black", lw=2.2, zorder=4)
ax.plot(hours6[1:], np.array(pr_ctrl) + PR_OFFSET, color="black", lw=2.2, zorder=4)
ax.plot(hours6, t850_mean, color="red", lw=3.0, zorder=5)
ax.plot(hours6, t500_mean, color="red", lw=3.0, zorder=5)
ax.plot(hours6[1:], np.array(pr_mean) + PR_OFFSET, color="red", lw=3.0, zorder=5)

# labels inside
ax.text(fx(59), fy(162), "Temp. 850hPa", transform=fig.transFigure, family=mono,
        fontsize=7.2, va="center", zorder=6)
ax.text(fx(59), fy(333), "Temp. 500hPa", transform=fig.transFigure, family=mono,
        fontsize=7.2, va="center", zorder=6)
ax.text(fx(59), fy(536), "Précipitations", transform=fig.transFigure, family=mono,
        fontsize=7.2, va="center", zorder=6)

# date labels
base = transforms.blended_transform_factory(ax.transData, ax.transAxes)
tr = transforms.offset_copy(base, fig=fig, x=3, y=-3, units="dots")
for d, lab in enumerate(day_labels):
    ax.text(24 * d, 0, lab, transform=tr, rotation=90, ha="left", va="top",
            family=mono, fontsize=7.2, clip_on=False)
fig.text(fx(18), fy(607), "(°C)", family=mono, fontsize=7.2, va="center")
fig.text(fx(705), fy(607), "(mm)", family=mono, fontsize=7.2, va="center")

# legend
fig.add_artist(plt.Line2D([fx(35), fx(65)], [fy(639), fy(639)], color="red", lw=3.0))
fig.text(fx(75), fy(639), "Moyenne des scénarios", family=mono, fontsize=7.2, va="center")
fig.add_artist(plt.Line2D([fx(225), fx(255)], [fy(639), fy(639)], color="black", lw=3.0))
fig.text(fx(265), fy(639), "Contrôle/Det", family=mono, fontsize=7.2, va="center")
fig.text(fx(265), fy(651), "CEP/ECMWF", family=mono, fontsize=7.2, va="center")
fig.text(fx(370), fy(652), "50 Perts.", family=mono, fontsize=7.2, va="center")

col_w = 10.93
for k, c in enumerate(member_colors):
    row, col = divmod(k, 25)
    x0 = 430.7 + col_w * col
    y0 = 645 + 7 * row
    fig.add_artist(Rectangle((fx(x0), fy(y0 + 7)), (col_w - 0.5) / W, 7 / H,
                             transform=fig.transFigure, facecolor=c, edgecolor="none"))
    ty = 640 if row == 0 else 664
    fig.text(fx(x0 + col_w / 2), fy(ty), "%02d" % (k + 1), family=mono, fontsize=5.3,
             fontweight="bold", ha="center", va="center")

# title box
fig.add_artist(Rectangle((fx(20), fy(698)), 420 / W, 31 / H, transform=fig.transFigure,
                         fill=False, edgecolor="black", lw=0.9))
fig.text(fx(30), fy(677), "Diagramme ensembles ECMWF/CEP 0.25° sur 360h : 41.1N 28.1E",
         family=mono, fontsize=8.2, fontweight="bold", va="center")
fig.text(fx(30), fy(691), "Températures 850hPa et 500hPa (°C) , précipitations (mm)",
         family=mono, fontsize=7.2, va="center")
fig.text(fx(449), fy(675), "Ensemble ECMWF/CEP du 06/01/2025 - 00Z",
         family=mono, fontsize=7.2, va="center")
fig.text(fx(449), fy(691), "Copyright 2025 Meteociel.fr - ECMWF",
         family=mono, fontsize=8.2, fontweight="bold", va="center")

fig.savefig("out.png", dpi=100, facecolor="white")
